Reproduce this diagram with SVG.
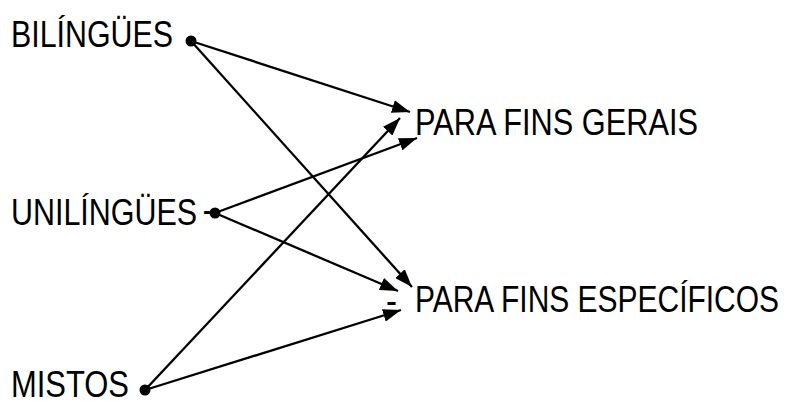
<svg xmlns="http://www.w3.org/2000/svg" width="794" height="401" viewBox="0 0 794 401">
<style>
text{font-family:"Liberation Sans Narrow","Liberation Sans",Arial,sans-serif;font-size:36px;fill:#000}
.c{stroke:#000;stroke-width:2.3;fill:none;marker-end:url(#ah)}
.d{fill:#000}
</style>
<defs>
<marker id="ah" markerUnits="userSpaceOnUse" markerWidth="19" markerHeight="13" refX="18" refY="6.5" orient="auto">
<path d="M0,0 L18,6.5 L0,13 z" fill="#000"/>
</marker>
</defs>
<rect width="794" height="401" fill="#fff"/>
<g id="connectors">
<line class="c" x1="191" y1="41" x2="410" y2="112"/>
<line class="c" x1="191" y1="41" x2="412" y2="287"/>
<line class="c" x1="215" y1="213" x2="417" y2="138"/>
<line class="c" x1="215" y1="213" x2="398" y2="291"/>
<line class="c" x1="145" y1="390" x2="400" y2="118"/>
<line class="c" x1="145" y1="390" x2="401" y2="310"/>
</g>
<g id="bilingues">
<text x="11" y="47" textLength="162" lengthAdjust="spacingAndGlyphs">BILÍNGÜES</text>
<circle class="d" cx="191" cy="41" r="5.5"/>
</g>
<g id="unilingues">
<text x="11" y="225" textLength="186" lengthAdjust="spacingAndGlyphs">UNILÍNGÜES</text>
<text x="203" y="222" textLength="8" lengthAdjust="spacingAndGlyphs">-</text>
<circle class="d" cx="215" cy="213" r="5.5"/>
</g>
<g id="mistos">
<text x="11" y="397" textLength="118" lengthAdjust="spacingAndGlyphs">MISTOS</text>
<circle class="d" cx="145" cy="390" r="5.5"/>
</g>
<g id="gerais">
<text x="415" y="135" textLength="283" lengthAdjust="spacingAndGlyphs">PARA FINS GERAIS</text>
</g>
<g id="especificos">
<text x="386" y="313" textLength="11" lengthAdjust="spacingAndGlyphs">-</text>
<text x="415" y="312" textLength="364" lengthAdjust="spacingAndGlyphs">PARA FINS ESPECÍFICOS</text>
</g>
</svg>
